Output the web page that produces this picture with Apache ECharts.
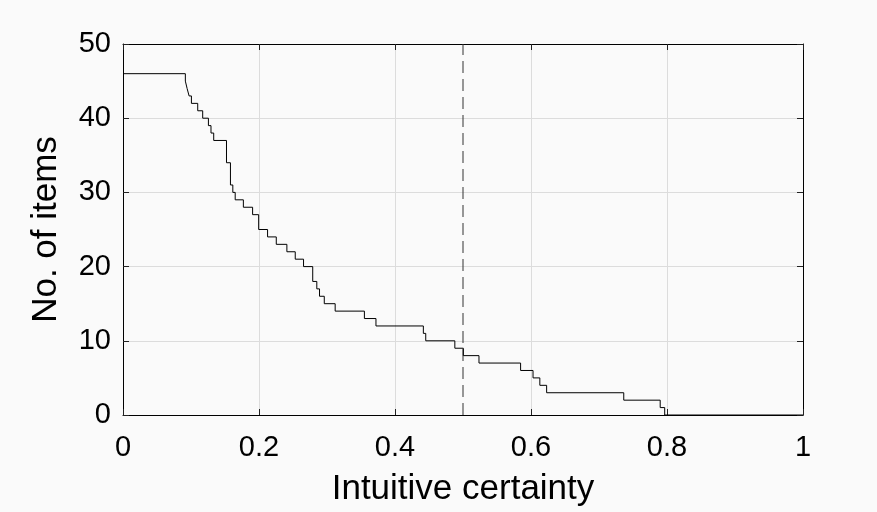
<!DOCTYPE html>
<html>
<head>
<meta charset="utf-8">
<script src="https://cdn.jsdelivr.net/npm/echarts@6/dist/echarts.min.js"></script>
<style>
  html, body { margin: 0; padding: 0; background: #fafafa; }
  #chart { width: 877px; height: 512px; }
</style>
</head>
<body>
<div id="chart"></div>
<script>
// Certainty thresholds where the item count changes
const certainty = [
  0, 0.0917, 0.0943, 0.0972, 0.1006, 0.1099, 0.1172, 0.1256, 0.1294, 0.1334,
  0.1522, 0.1580, 0.1615, 0.1650, 0.1770, 0.1906, 0.1995, 0.2126, 0.2254, 0.2410,
  0.2533, 0.2655, 0.2790, 0.2850, 0.2890, 0.2960, 0.3120, 0.3550, 0.3720, 0.4417,
  0.4452, 0.4880, 0.5005, 0.5235, 0.5847, 0.6030, 0.6130, 0.6230, 0.7364, 0.7900,
  0.7966, 1.0
];
// Number of items whose intuitive certainty exceeds each threshold
const itemCount = [
  46, 45, 44, 43, 42, 41, 40, 39, 38, 37,
  34, 31, 30, 29, 28, 27, 25, 24, 23, 22,
  21, 20, 18, 17, 16, 15, 14, 13, 12, 11,
  10, 9, 8, 7, 6, 5, 4, 3, 2, 1,
  0, 0
];
// Reference threshold (dashed line)
const threshold = 0.5;
const yRange = [0, 50];
const xTicks = [0, 0.2, 0.4, 0.6, 0.8, 1];

const font = 'Liberation Sans, Arial, sans-serif';
const stepData = certainty.map((x, i) => [x, itemCount[i]]);
const thresholdData = yRange.map(y => [threshold, y]);

const chart = echarts.init(document.getElementById('chart'), null, { renderer: 'canvas' });

// Box frame: every side of the plot gets a black axis line with inward ticks
function frameAxis(extra) {
  return Object.assign({
    axisLine: { show: true, onZero: false, lineStyle: { color: '#000', width: 1 } },
    axisTick: { show: true, inside: true, length: 6, lineStyle: { color: '#222', width: 1 } },
    splitLine: { show: false }
  }, extra);
}

chart.setOption({
  backgroundColor: '#fafafa',
  animation: false,
  grid: { left: 123, right: 74, top: 44, bottom: 96, show: false },
  xAxis: [
    frameAxis({
      type: 'value', min: 0, max: 1, interval: 0.2, position: 'bottom',
      name: 'Intuitive certainty', nameLocation: 'middle', nameGap: 57,
      nameTextStyle: { fontFamily: font, fontSize: 35, color: '#000' },
      axisLabel: { fontFamily: font, fontSize: 29, color: '#000', margin: 18,
        formatter: v => xTicks.includes(+v.toFixed(1)) ? String(+v.toFixed(1)) : '' },
      splitLine: { show: true, lineStyle: { color: '#dcdcdc', width: 1 } }
    }),
    frameAxis({
      type: 'value', min: 0, max: 1, interval: 0.2, position: 'top',
      axisLabel: { show: false }
    })
  ],
  yAxis: [
    frameAxis({
      type: 'value', min: yRange[0], max: yRange[1], interval: 10, position: 'left',
      name: 'No. of items', nameLocation: 'middle', nameGap: 59, nameRotate: 90,
      nameTextStyle: { fontFamily: font, fontSize: 35, color: '#000' },
      axisLabel: { fontFamily: font, fontSize: 29, color: '#000', margin: 12 },
      splitLine: { show: true, lineStyle: { color: '#dcdcdc', width: 1 } }
    }),
    frameAxis({
      type: 'value', min: yRange[0], max: yRange[1], interval: 10, position: 'right',
      axisLabel: { show: false }
    })
  ],
  series: [
    {
      type: 'line', data: thresholdData, symbol: 'none', silent: true,
      lineStyle: { color: '#333', width: 1, type: [12, 6] }
    },
    {
      type: 'line', step: 'end', data: stepData, symbol: 'none', silent: true,
      lineStyle: { color: '#000', width: 1 }
    }
  ]
});
</script>
</body>
</html>
